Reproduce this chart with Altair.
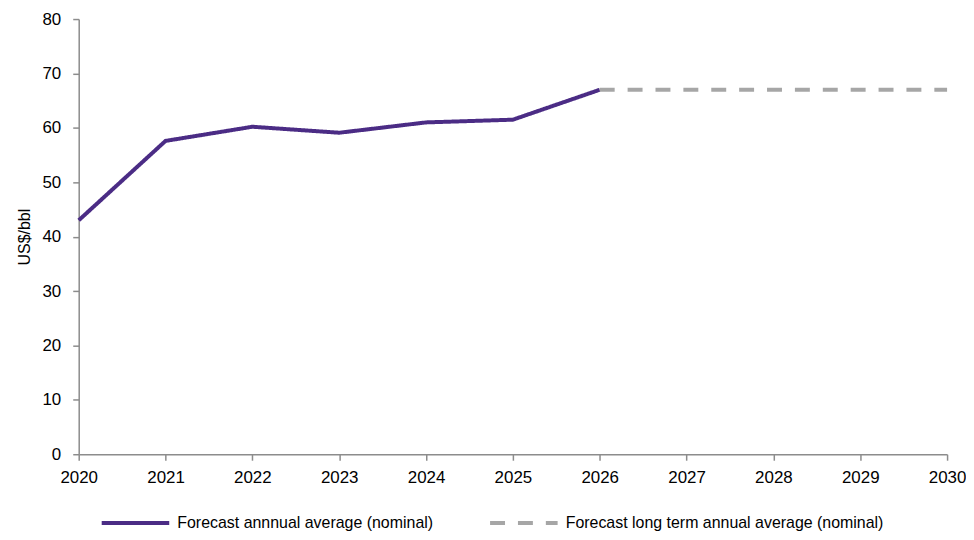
import altair as alt
import pandas as pd

years_hist = [2020, 2021, 2022, 2023, 2024, 2025, 2026]
values_hist = [43.0, 57.6, 60.2, 59.1, 61.0, 61.5, 67.0]
years_lt = [2026, 2027, 2028, 2029, 2030]
values_lt = [67.0, 67.0, 67.0, 67.0, 67.0]
series_names = ["Forecast annnual average (nominal)", "Forecast long term annual average (nominal)"]
series_colors = ["#4B2C85", "#A6A6A6"]

df = pd.DataFrame(
    [{"year": y, "value": v, "series": series_names[0]} for y, v in zip(years_hist, values_hist)]
    + [{"year": y, "value": v, "series": series_names[1]} for y, v in zip(years_lt, values_lt)]
)

FONT = "Liberation Sans"

chart = alt.Chart(df).mark_line(strokeWidth=4).encode(
    x=alt.X("year:Q", scale=alt.Scale(domain=[2020, 2030], nice=False, zero=False),
            axis=alt.Axis(values=list(range(2020, 2031)), format="d", title=None,
                          labelFontSize=17, labelPadding=9, tickSize=6,
                          labelFlush=False, labelBound=False, labelOverlap=False)),
    y=alt.Y("value:Q", scale=alt.Scale(domain=[0, 80], nice=False),
            axis=alt.Axis(values=list(range(0, 81, 10)), title="US$/bbl",
                          titleFontSize=16, titleFontWeight="normal", titlePadding=10,
                          labelFontSize=17, labelPadding=12, tickSize=6)),
    color=alt.Color("series:N", scale=alt.Scale(domain=series_names, range=series_colors),
                    legend=alt.Legend(title=None, orient="none", legendX=21, legendY=470,
                                      direction="horizontal", symbolType="stroke",
                                      symbolSize=4600, symbolStrokeWidth=4,
                                      labelFontSize=16, columnPadding=48, labelOffset=6)),
    strokeDash=alt.StrokeDash("series:N", scale=alt.Scale(domain=series_names, range=[[1, 0], [15, 13]]),
                              legend=None),
).properties(
    width=872, height=437,
    padding={"left": 71, "top": 10, "right": 19, "bottom": 77},
    autosize=alt.AutoSizeParams(type="none"),
).configure_view(stroke=None).configure_axis(
    grid=False, domainColor="#8C8C8C", tickColor="#8C8C8C", domainWidth=1.5, tickWidth=1.5,
    labelFont=FONT, titleFont=FONT, labelColor="#000000", titleColor="#000000",
).configure_legend(labelFont=FONT, labelColor="#000000", labelLimit=500)

chart.save("out.html", embed_options={"renderer": "svg", "actions": False})
